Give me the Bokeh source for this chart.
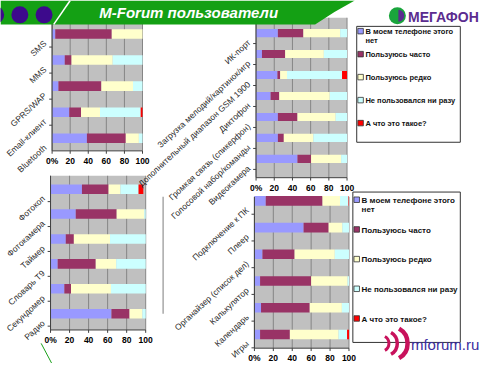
import numpy as np
from bokeh.plotting import figure
from bokeh.models import Range1d
from bokeh.core.properties import value
from bokeh.embed import file_html
from bokeh.resources import INLINE

# ---------------- data ----------------
series_names = ["В моем телефоне этого нет", "Пользуюсь часто", "Пользуюсь редко",
                "Не пользовался ни разу", "А что это такое?"]
series_colors = ["#9999ff", "#993366", "#ffffcc", "#ccffff", "#ff0000"]
tick_values = [0, 20, 40, 60, 80, 100]
tick_labels = ["0%", "20", "40", "60", "80", "100"]

cats_a = ["SMS", "MMS", "GPRS/WAP", "Email-клиент", "Bluetooth"]
a_no = [3.5, 14, 7, 19, 38.5]
a_often = [62.5, 7.5, 47.5, 13, 43]
a_rarely = [34, 45.5, 35, 21, 14.5]
a_never = [0, 33, 10.5, 45, 4]
a_what = [0, 0, 0, 2, 0]

cats_b = ["ИК-порт", "Загрузка мелодий/картинок/игр", "Дополнительный диапазон GSM 1900",
          "Диктофон", "Громкая связь (спикерфон)", "Голосовой набор/команды", "Видеокамера"]
b_no = [24, 6.5, 23.5, 16, 24, 24, 45.5]
b_often = [28, 25.5, 3, 9.5, 21.5, 6.5, 15]
b_rarely = [40.5, 42.5, 7.5, 55.5, 42, 32.5, 33]
b_never = [7.5, 25.5, 60.5, 19, 12.5, 37, 6.5]
b_what = [0, 0, 5.5, 0, 0, 0, 0]

cats_c = ["Фотокоп", "Фотокамера", "Таймер", "Словарь Т9", "Секундомер", "Радио"]
c_no = [33, 26.5, 16, 7.5, 14.5, 64]
c_often = [28, 43, 8.5, 40, 7, 19]
c_rarely = [12.5, 29, 38, 21.5, 42, 13.5]
c_never = [19, 1.5, 37.5, 31, 36.5, 3.5]
c_what = [5, 0, 0, 0, 0, 0]

cats_d = ["Подключение к ПК", "Плеер", "Органайзер (список дел)", "Калькулятор", "Календарь", "Игры"]
d_no = [12, 52, 8.5, 6, 7, 6]
d_often = [60, 26.5, 34, 54, 51.5, 31.5]
d_rarely = [18.5, 14.5, 42.5, 38.5, 34, 51.5]
d_never = [9, 7, 15, 1.5, 7.5, 9]
d_what = [0.5, 0, 0, 0, 0, 2]

# ---------------- layout (slide coordinates, 500 x 379) ----------------
W, H = 484, 363
SW, SH = 500.0, 379.0
FONT = value("Liberation Sans")

LAYOUT = {
    "a": dict(x0=53.3, x100=146.7, first=35.0, step=27.2, top=20, bottom=157, bar=10),
    "b": dict(x0=264.0, x100=358.0, first=34.0, step=21.9, top=18, bottom=185, bar=8.5),
    "c": dict(x0=51.7, x100=150.0, first=197.0, step=26.0, top=183, bottom=344, bar=10),
    "d": dict(x0=262.3, x100=360.0, first=209.2, step=27.9, top=205, bottom=363, bar=10),
}

p = figure(width=W, height=H, x_range=Range1d(0, SW), y_range=Range1d(SH, 0),
           x_axis_type=None, y_axis_type=None, toolbar_location=None,
           output_backend="svg", min_border=0, outline_line_color=None)
p.background_fill_color = "white"
p.border_fill_color = "white"


def chart(key, cats, values, lay):
    n = len(cats)
    s = (lay["x100"] - lay["x0"]) / 100.0
    xn, yn = "x_" + key, "y_" + key
    p.extra_x_ranges[xn] = Range1d((0 - lay["x0"]) / s, (SW - lay["x0"]) / s)
    band_top = lay["first"] - lay["step"] / 2.0
    p.extra_y_ranges[yn] = Range1d((SH - band_top) / lay["step"], (0 - band_top) / lay["step"])
    vt = (lay["top"] - band_top) / lay["step"]
    vb = (lay["bottom"] - band_top) / lay["step"]
    kw = dict(x_range_name=xn, y_range_name=yn)
    nt = len(tick_values)

    # plot area + gridlines
    p.quad(left=[0], right=[100], top=[vt], bottom=[vb], fill_color="#c0c0c0", line_color=None, **kw)
    p.segment(x0=tick_values, x1=tick_values, y0=[vt] * nt, y1=[vb] * nt,
              line_color="#858585", line_width=1, **kw)

    # stacked bars
    ys = np.arange(n) + 0.5
    left = np.zeros(n)
    for col, v in zip(series_colors, values):
        v = np.asarray(v, dtype=float)
        p.hbar(y=ys, left=left, right=left + v, height=lay["bar"] / lay["step"],
               fill_color=col, line_color=None, **kw)
        left = left + v

    # axis lines and ticks
    p.segment(x0=[0, 0], y0=[vt, vb], x1=[0, 100], y1=[vb, vb], line_color="#404040", line_width=1, **kw)
    tl = 3.0 / lay["step"]
    p.segment(x0=tick_values, x1=tick_values, y0=[vb] * nt, y1=[vb + tl] * nt,
              line_color="#404040", line_width=1, **kw)
    bnd = np.arange(1, n + 1)
    bnd = bnd[bnd <= vb]
    p.segment(x0=[-3.0 / s] * len(bnd), x1=[0] * len(bnd), y0=bnd, y1=bnd,
              line_color="#404040", line_width=1, **kw)

    # tick labels
    p.text(x=tick_values, y=[vb] * nt, text=tick_labels, text_align="center", text_baseline="middle",
           y_offset=10, text_font=FONT, text_font_size="8.5px", text_font_style="bold",
           text_color="#000000", **kw)
    # category labels (rotated)
    p.text(x=[0] * n, y=ys, text=cats, angle=0.75, text_align="right", text_baseline="middle",
           x_offset=-7, y_offset=8, text_font=FONT, text_font_size="8.5px", text_color="#2a2a2a", **kw)


chart("c", cats_c, [c_no, c_often, c_rarely, c_never, c_what], LAYOUT["c"])
chart("d", cats_d, [d_no, d_often, d_rarely, d_never, d_what], LAYOUT["d"])
chart("a", cats_a, [a_no, a_often, a_rarely, a_never, a_what], LAYOUT["a"])
chart("b", cats_b, [b_no, b_often, b_rarely, b_never, b_what], LAYOUT["b"])


def legend(box, top0, step, sq_x, tx, fs):
    l, r, t, b = box
    p.quad(left=[l], right=[r], top=[t], bottom=[b], fill_color="white", line_color="#333333", line_width=1)
    tops = top0 + step * np.arange(len(series_names))
    p.scatter(x=[sq_x] * len(series_names), y=tops + 4, marker="square", size=5.5,
              fill_color=series_colors, line_color="#333333", line_width=0.8)
    labels = [series_names[0].replace("этого ", "этого\n")] + series_names[1:]
    p.text(x=[tx] * len(labels), y=tops, text=labels, text_baseline="top", text_align="left",
           text_font=FONT, text_font_size=fs, text_font_style="bold", text_line_height=1.0,
           text_color="#111111")


legend((368, 475, 27, 148), 28.0, 24.0, 372, 377, "7.5px")
legend((364, 475, 200, 357), 204.0, 31.0, 368, 373, "8px")

# ---------------- slide decorations ----------------
p.patch(x=[0, 366, 345, 325, 0], y=[0, 0, 12, 25, 25], fill_color="#14a014", line_color=None)
p.line(x=[55, 72], y=[25, 0], line_color="white", line_width=1.5)
p.scatter(x=[-5, 20, 45], y=[15, 15, 15], size=17, fill_color="#3d0a8c", line_color=None)
p.text(x=[102], y=[13], text=["M-Forum пользователи"], text_font=FONT, text_font_size="15px",
       text_font_style="bold italic", text_color="white", text_baseline="middle")

p.scatter(x=[410], y=[16], size=17, fill_color="#19a53c", line_color=None)
p.wedge(x=[411], y=[16], radius=6, radius_units="screen", start_angle=-np.pi / 2, end_angle=np.pi / 2,
        fill_color="#5b2c8f", line_color=None)
p.text(x=[421], y=[17], text=["МЕГАФОН"], text_font=FONT, text_font_size="14px",
       text_font_style="bold", text_color="#5b2c8f", text_baseline="middle")

p.arc(x=[393, 397, 403], y=[358, 358, 358], radius=[8, 12.5, 17], radius_units="screen",
      start_angle=-1.05, end_angle=1.05, line_color="#c8125c", line_width=[3, 3.5, 4.5])
p.text(x=[424], y=[359], text=["mforum.ru"], text_font=FONT, text_font_size="15px",
       text_color="#3a2e9e", text_baseline="middle")

p.line(x=[42, 53], y=[358, 379], line_color="#1aa01a", line_width=1)
p.line(x=[168, 168], y=[205, 327], line_color="#a8a8a8", line_width=1.5)

open("out.html", "w").write(file_html(p, INLINE))
